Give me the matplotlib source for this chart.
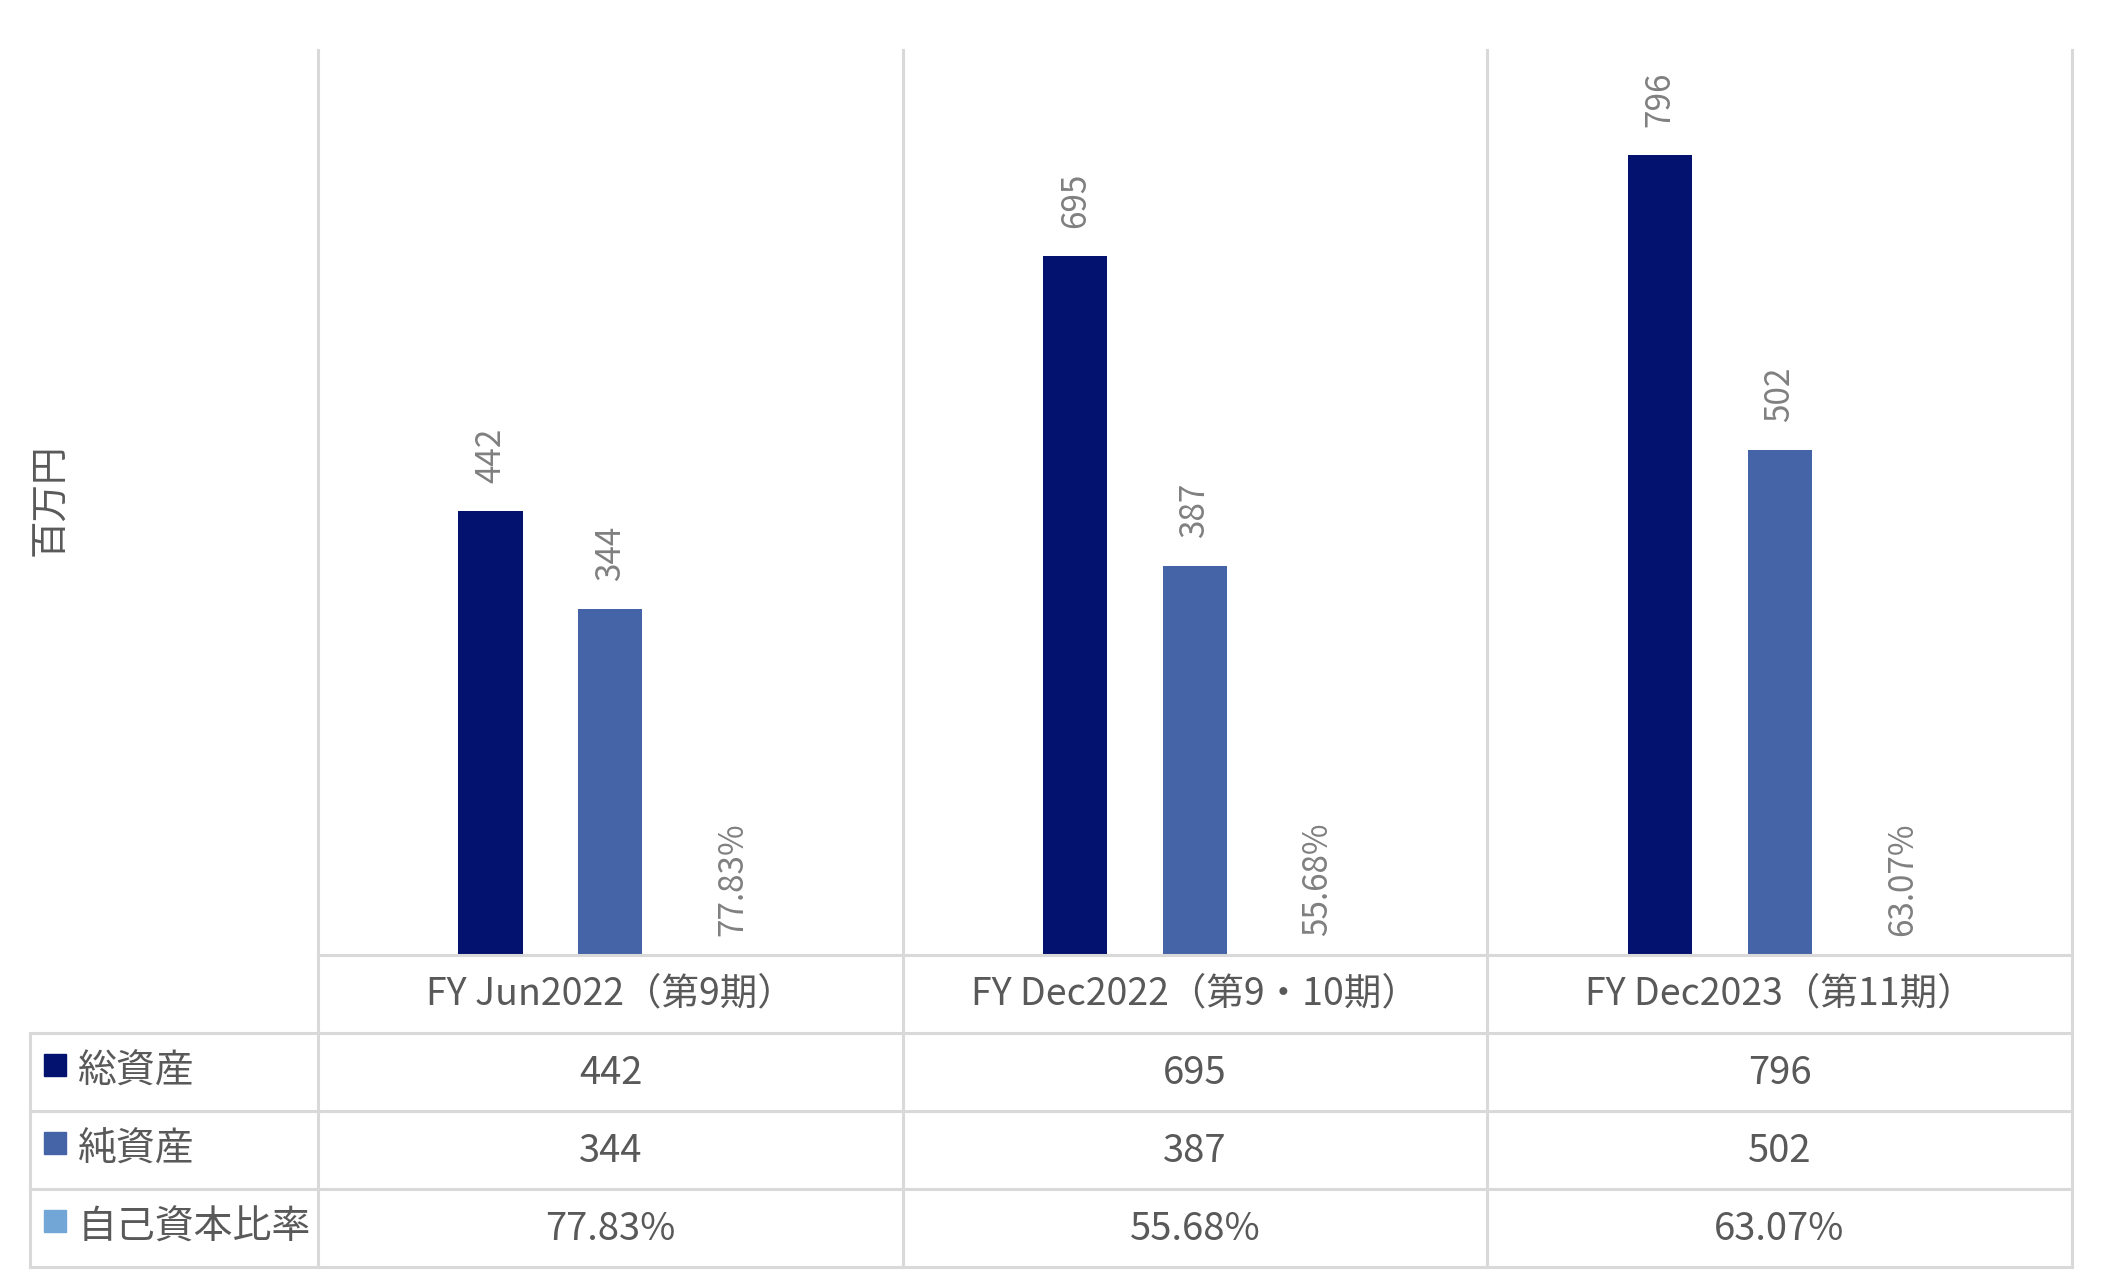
import numpy as np
import matplotlib.pyplot as plt
from matplotlib.patches import Rectangle

plt.rcParams['font.family'] = ['Noto Sans CJK JP', 'DejaVu Sans']

periods = ['FY Jun2022（第9期）', 'FY Dec2022（第9・10期）', 'FY Dec2023（第11期）']
series_names = ['総資産', '純資産', '自己資本比率']
total_assets = [442, 695, 796]
net_assets = [344, 387, 502]
equity_ratio = [77.83, 55.68, 63.07]   # percent

colors = ['#03116F', '#4563A7', '#71A6D6']
grid_c = '#d9d9d9'
text_c = '#595959'
label_c = '#808080'

W, H = 2104, 1288
fig = plt.figure(figsize=(W / 100, H / 100), dpi=100)

# pixel layout
x_edges = [318, 903, 1487, 2072]
y_top, y_base = 50, 955
row_lines = [955, 1033, 1111, 1189, 1267]
table_left = 30

ax = fig.add_axes([x_edges[0] / W, 1 - y_base / H,
                   (x_edges[-1] - x_edges[0]) / W, (y_base - y_top) / H])
ax.set_xlim(-0.5, 2.5)
ax.set_ylim(0, 900)
ax.axis('off')

x = np.arange(len(periods))
bw = 0.11
offs = [-0.205, 0.0, 0.21]
vals = [total_assets, net_assets, [r / 100 for r in equity_ratio]]
for i in range(3):
    ax.bar(x + offs[i], vals[i], width=bw, color=colors[i], zorder=2)
ax.axhline(0, color=grid_c, lw=2.2, zorder=3, clip_on=False)

for j in range(len(periods)):
    ax.annotate(f'{total_assets[j]}', (x[j] + offs[0], total_assets[j]),
                xytext=(0, 20), textcoords='offset points', rotation=90,
                ha='center', va='bottom', fontsize=24, color=label_c)
    ax.annotate(f'{net_assets[j]}', (x[j] + offs[1], net_assets[j]),
                xytext=(0, 20), textcoords='offset points', rotation=90,
                ha='center', va='bottom', fontsize=24, color=label_c)
    ax.annotate(f'{equity_ratio[j]:.2f}%', (x[j] + offs[2], 0),
                xytext=(0, 14), textcoords='offset points', rotation=90,
                ha='center', va='bottom', fontsize=24, color=label_c)

# overlay for grid / table in pixel coordinates
ov = fig.add_axes([0, 0, 1, 1], zorder=-1)
ov.set_xlim(0, W)
ov.set_ylim(H, 0)
ov.axis('off')
lw = 2.2
for xe in x_edges:
    ov.plot([xe, xe], [y_top, row_lines[-1]], color=grid_c, lw=lw)
ov.plot([table_left, table_left], [row_lines[1], row_lines[-1]], color=grid_c, lw=lw)
for yl in row_lines[1:]:
    ov.plot([table_left, x_edges[-1]], [yl, yl], color=grid_c, lw=lw)

centers = [(x_edges[k] + x_edges[k + 1]) / 2 for k in range(3)]
hy = (row_lines[0] + row_lines[1]) / 2
for k, p in enumerate(periods):
    ov.text(centers[k], hy, p, ha='center', va='center', fontsize=27, color=text_c)

cells = [[str(v) for v in total_assets], [str(v) for v in net_assets],
         [f'{v:.2f}%' for v in equity_ratio]]
for r in range(3):
    cy = (row_lines[r + 1] + row_lines[r + 2]) / 2
    ov.add_patch(Rectangle((44, cy - 18), 22, 22, color=colors[r]))
    ov.text(78, cy, series_names[r], ha='left', va='center',
            fontsize=28, color=text_c)
    for k in range(3):
        ov.text(centers[k], cy + 2, cells[r][k], ha='center', va='center',
                fontsize=27.5, color=text_c)

fig.text(51 / W, 1 - 500 / H, '百万円', rotation=90, ha='center', va='center',
         fontsize=27, color=text_c)

fig.savefig('out.png', dpi=100)
